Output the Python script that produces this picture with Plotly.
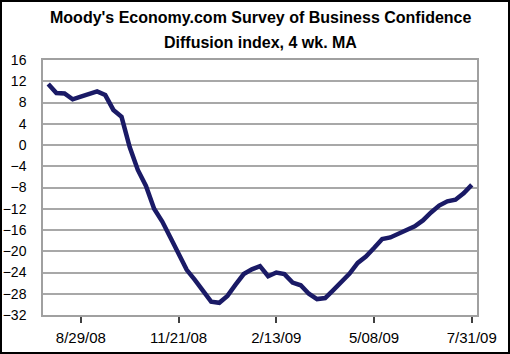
import plotly.graph_objects as go
import pandas as pd

start_date = "2008-08-01"
n_weeks = 53
values = [11.5, 9.8, 9.7, 8.6, 9.1, 9.6, 10.1, 9.4, 6.6, 5.3,
          -0.4, -4.7, -7.7, -12.0, -14.4, -17.4, -20.4, -23.5, -25.4, -27.5,
          -29.5, -29.7, -28.4, -26.3, -24.3, -23.4, -22.8, -24.7, -24.0, -24.3,
          -25.9, -26.4, -28.0, -29.0, -28.8, -27.3, -25.8, -24.2, -22.2, -21.0,
          -19.4, -17.7, -17.4, -16.6, -16.0, -15.3, -14.2, -12.7, -11.4, -10.6,
          -10.3, -9.1, -7.5]
dates = pd.date_range(start_date, periods=n_weeks, freq="7D")

x_tick_vals = ["2008-08-29", "2008-11-21", "2009-02-13", "2009-05-08", "2009-07-31"]
x_tick_text = ["8/29/08", "11/21/08", "2/13/09", "5/08/09", "7/31/09"]
y_tick_vals = list(range(-32, 17, 4))

title1 = "Moody's Economy.com Survey of Business Confidence"
title2 = "Diffusion index, 4 wk. MA"

fig = go.Figure()
fig.add_trace(go.Scatter(x=dates, y=values, mode="lines",
                         line=dict(color="#1a1a66", width=4.5)))

W, H = 510, 354
L, R, T, B = 43, 33, 60, 39
pw, ph = W - L - R, H - T - B

fig.update_layout(
    width=W, height=H,
    margin=dict(l=L, r=R, t=T, b=B),
    paper_bgcolor="white", plot_bgcolor="white",
    showlegend=False,
    font=dict(family="Liberation Sans, Arial", color="black", size=14),
    xaxis=dict(
        range=["2008-07-27 12:00", "2009-08-04 12:00"],
        tickvals=x_tick_vals, ticktext=x_tick_text,
        ticks="outside", ticklen=6, tickcolor="#404040", tickwidth=1.5,
        showgrid=False, showline=True, linecolor="#a0a0a0", linewidth=1.5,
        mirror=True, zeroline=False, ticklabelstandoff=2, automargin=False,
        tickfont=dict(size=15),
    ),
    yaxis=dict(
        range=[-32, 16], tickvals=y_tick_vals,
        showgrid=True, gridcolor="#a8a8a8", gridwidth=1.5,
        showline=True, linecolor="#a0a0a0", linewidth=1.5, mirror=True,
        zeroline=False, ticks="", ticklabelstandoff=12, automargin=False,
        tickfont=dict(size=14),
    ),
    annotations=[
        dict(text="<b>" + title1 + "</b>", xref="paper", yref="paper",
             x=0.5, y=(H - B - 18) / ph, showarrow=False,
             xanchor="center", yanchor="middle", font=dict(size=16)),
        dict(text="<b>" + title2 + "</b>", xref="paper", yref="paper",
             x=0.5, y=(H - B - 42) / ph, showarrow=False,
             xanchor="center", yanchor="middle", font=dict(size=16)),
    ],
    shapes=[
        dict(type="rect", xref="paper", yref="paper",
             x0=(-L + 1) / pw, x1=(W - L - 1) / pw,
             y0=(-B + 1) / ph, y1=(H - B - 1) / ph,
             line=dict(color="black", width=2), fillcolor="rgba(0,0,0,0)",
             layer="above"),
    ],
)

fig.write_html("out.html")
